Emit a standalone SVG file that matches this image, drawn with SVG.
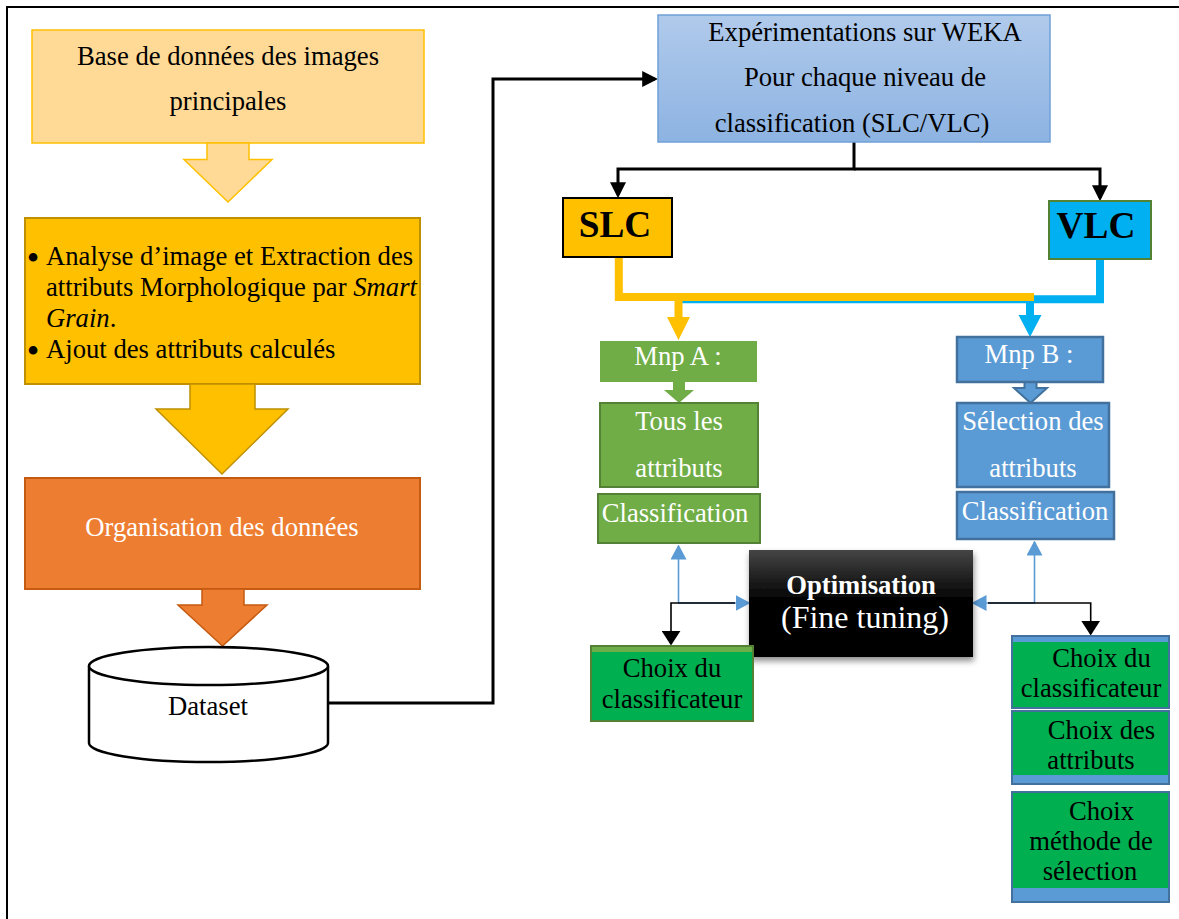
<svg xmlns="http://www.w3.org/2000/svg" width="1179" height="919" viewBox="0 0 1179 919">
<style>
.t{font-family:"Liberation Serif","Times New Roman",serif;font-size:26.67px;fill:#000}
.w{fill:#fff}
.m{text-anchor:middle}
.b{font-weight:bold}
.bul{font-family:"Liberation Serif","Times New Roman",serif;font-size:36px;fill:#000;text-anchor:middle}
.blk{fill:none;stroke:#000;stroke-width:3}
.thin{fill:none;stroke:#000;stroke-width:1.6}
.blu{fill:none;stroke:#5B9BD5;stroke-width:1.6}
.gbox{fill:#00B050}
.bband{fill:#5B9BD5}
</style>
<defs>
<linearGradient id="gWeka" x1="0" y1="0" x2="0" y2="1">
<stop offset="0" stop-color="#B0CAEB"/>
<stop offset="1" stop-color="#8DB3E2"/>
</linearGradient>
<linearGradient id="gOpt" x1="0" y1="0" x2="0" y2="1">
<stop offset="0" stop-color="#454545"/>
<stop offset="0.45" stop-color="#050505"/>
<stop offset="1" stop-color="#000"/>
</linearGradient>
<filter id="sh" x="-10%" y="-10%" width="125%" height="130%">
<feDropShadow dx="1" dy="4" stdDeviation="3" flood-color="#000" flood-opacity="0.45"/>
</filter>
<marker id="aBig" markerUnits="userSpaceOnUse" markerWidth="16" markerHeight="16" viewBox="0 0 15 15" refX="12" refY="7.5" orient="auto">
<path d="M0,0 L15,7.5 L0,15 Z" fill="#000"/>
</marker>
<marker id="aSm" markerUnits="userSpaceOnUse" markerWidth="15" markerHeight="19" viewBox="0 0 14 18" refX="12.5" refY="9" orient="auto">
<path d="M0,0 L14,9 L0,18 Z" fill="#000"/>
</marker>
<marker id="aBlu" markerUnits="userSpaceOnUse" markerWidth="15" markerHeight="16" viewBox="0 0 15 16" refX="13.5" refY="8" orient="auto-start-reverse">
<path d="M0,0 L15,8 L0,16 Z" fill="#5B9BD5"/>
</marker>
</defs>

<path d="M7,919 V7 H1179" fill="none" stroke="#000" stroke-width="2"/>

<g id="connectors">
<polyline class="blk" points="328,703 493,703 493,79 655,79" marker-end="url(#aBig)"/>
<path class="blk" d="M854,142 V169 H618 V195" marker-end="url(#aBig)"/>
<path class="blk" d="M854,169 H1100 V198" marker-end="url(#aBig)"/>
<path d="M1100,259 V299.3 H682" fill="none" stroke="#00B0F0" stroke-width="8"/>
<polygon points="1026,299 1034,299 1034,315 1041.5,315 1030,337 1018.5,315 1026,315" fill="#00B0F0"/>
<path d="M618.8,257 V297 H1034" fill="none" stroke="#FFC000" stroke-width="8"/>
<polygon points="674.5,297 682.5,297 682.5,317 690,317 678.5,340 667,317 674.5,317" fill="#FFC000"/>
<polygon points="673,382 685,382 685,390 694,390 679,403 664,390 673,390" fill="#70AD47"/>
<polygon points="1024.5,382 1036.5,382 1036.5,388 1047,388 1030.5,403 1014,388 1024.5,388" fill="#5B9BD5" stroke="#41719C" stroke-width="2"/>
<path class="blu" d="M749,603 H678.5 V546" marker-start="url(#aBlu)" marker-end="url(#aBlu)"/>
<path class="thin" d="M735,603 H671 V644" marker-end="url(#aSm)"/>
<path class="blu" d="M973,603 H1034.5 V542" marker-start="url(#aBlu)" marker-end="url(#aBlu)"/>
<path class="thin" d="M988,603 H1090.7 V634" marker-end="url(#aSm)"/>
</g>

<g id="base-images">
<rect x="32" y="30" width="392" height="113" fill="#FFDA96" stroke="#FFC000" stroke-width="1.5"/>
<text class="t m" x="228" y="65">Base de données des images</text>
<text class="t m" x="228" y="110">principales</text>
</g>
<g id="arrow-1">
<polygon points="207,143 249,143 249,159.5 272,159.5 228,202 184,159.5 207,159.5" fill="#FFDA96" stroke="#FFC000" stroke-width="1.5"/>
</g>
<g id="analyse">
<rect x="25" y="218" width="395" height="166" fill="#FFC000" stroke="#BF9000" stroke-width="2"/>
<text class="bul" x="33" y="270">•</text>
<text class="t" x="46" y="265">Analyse d’image et Extraction des</text>
<text class="t" x="46" y="296">attributs Morphologique par <tspan font-style="italic">Smart</tspan></text>
<text class="t" x="46" y="327"><tspan font-style="italic">Grain</tspan>.</text>
<text class="bul" x="33" y="363">•</text>
<text class="t" x="46" y="358">Ajout des attributs calculés</text>
</g>
<g id="arrow-2">
<polygon points="190,384 255,384 255,409 288,409 222,474 156,409 190,409" fill="#FFC000" stroke="#BF9000" stroke-width="1.5"/>
</g>
<g id="organisation">
<rect x="25" y="478" width="395" height="111" fill="#ED7D31" stroke="#C55A11" stroke-width="2"/>
<text class="t w m" x="222" y="536">Organisation des données</text>
</g>
<g id="arrow-3">
<polygon points="202,589 244,589 244,605 267,605 222.5,646 178,605 202,605" fill="#ED7D31" stroke="#C55A11" stroke-width="1.5"/>
</g>
<g id="dataset">
<path d="M89,666 V743 A119.5,19 0 0 0 328,743 V666" fill="#fff" stroke="#000" stroke-width="2.5"/>
<ellipse cx="208.5" cy="666" rx="119.5" ry="19" fill="#fff" stroke="#000" stroke-width="2.5"/>
<text class="t m" x="208" y="715">Dataset</text>
</g>

<g id="weka">
<rect x="658" y="15" width="392" height="127" fill="url(#gWeka)" stroke="#6FA0D8" stroke-width="1.5"/>
<text class="t m" x="865" y="41">Expérimentations sur WEKA</text>
<text class="t m" x="865" y="86">Pour chaque niveau de</text>
<text class="t m" x="852" y="132">classification (SLC/VLC)</text>
</g>
<g id="slc">
<rect x="563" y="198" width="109" height="59" fill="#FFC000" stroke="#000" stroke-width="2"/>
<text class="t b m" x="615" y="237" style="font-size:37.33px">SLC</text>
</g>
<g id="vlc">
<rect x="1049" y="201" width="102" height="58" fill="#00B0F0" stroke="#548235" stroke-width="2"/>
<text class="t b m" x="1096" y="238" style="font-size:37.33px">VLC</text>
</g>

<g id="mnp-a">
<rect x="600" y="341" width="157" height="41" fill="#70AD47"/>
<text class="t w m" x="678" y="365">Mnp A :</text>
</g>
<g id="tous-attributs">
<rect x="600" y="403" width="158" height="84" fill="#70AD47" stroke="#538135" stroke-width="2"/>
<text class="t w m" x="679" y="430">Tous les</text>
<text class="t w m" x="679" y="477">attributs</text>
</g>
<g id="classification-a">
<rect x="598" y="494" width="162" height="49" fill="#70AD47" stroke="#538135" stroke-width="2"/>
<text class="t w m" x="675" y="522">Classification</text>
</g>

<g id="mnp-b">
<rect x="957" y="337" width="146" height="45" fill="#5B9BD5" stroke="#41719C" stroke-width="2.5"/>
<text class="t w m" x="1029" y="363">Mnp B :</text>
</g>
<g id="selection-attributs">
<rect x="957" y="403" width="152" height="84" fill="#5B9BD5" stroke="#41719C" stroke-width="2.5"/>
<text class="t w m" x="1033" y="430">Sélection des</text>
<text class="t w m" x="1033" y="477">attributs</text>
</g>
<g id="classification-b">
<rect x="957" y="492" width="157" height="47" fill="#5B9BD5" stroke="#41719C" stroke-width="2.5"/>
<text class="t w m" x="1035" y="520">Classification</text>
</g>

<g id="optimisation">
<rect x="749" y="550" width="224" height="107" fill="url(#gOpt)" filter="url(#sh)"/>
<text class="t w b m" x="861" y="594">Optimisation</text>
<text class="t w m" x="865" y="628" style="font-size:32px">(Fine tuning)</text>
</g>

<g id="choix-classificateur-a">
<rect x="591" y="646" width="162" height="75" class="gbox" stroke="#538135" stroke-width="2"/>
<rect x="592" y="647" width="160" height="5" fill="#6DAE4A"/>
<text class="t m" x="672" y="677">Choix du</text>
<text class="t m" x="672" y="708">classificateur</text>
</g>

<g id="choix-classificateur-b">
<rect x="1012" y="636" width="157" height="72" class="gbox" stroke="#41719C" stroke-width="2"/>
<rect x="1013" y="637" width="155" height="5" class="bband"/>
<text class="t m" x="1101.5" y="667">Choix du</text>
<text class="t m" x="1091" y="697">classificateur</text>
</g>
<g id="choix-attributs">
<rect x="1012" y="711" width="157" height="73" class="gbox" stroke="#41719C" stroke-width="2"/>
<rect x="1013" y="775" width="155" height="8" class="bband"/>
<text class="t m" x="1101.5" y="739">Choix des</text>
<text class="t m" x="1091" y="769">attributs</text>
</g>
<g id="choix-methode">
<rect x="1012" y="792" width="157" height="110" class="gbox" stroke="#41719C" stroke-width="2"/>
<rect x="1013" y="888" width="155" height="13" class="bband"/>
<text class="t m" x="1101.5" y="820">Choix</text>
<text class="t m" x="1091" y="850">méthode de</text>
<text class="t m" x="1090" y="880">sélection</text>
</g>
</svg>
